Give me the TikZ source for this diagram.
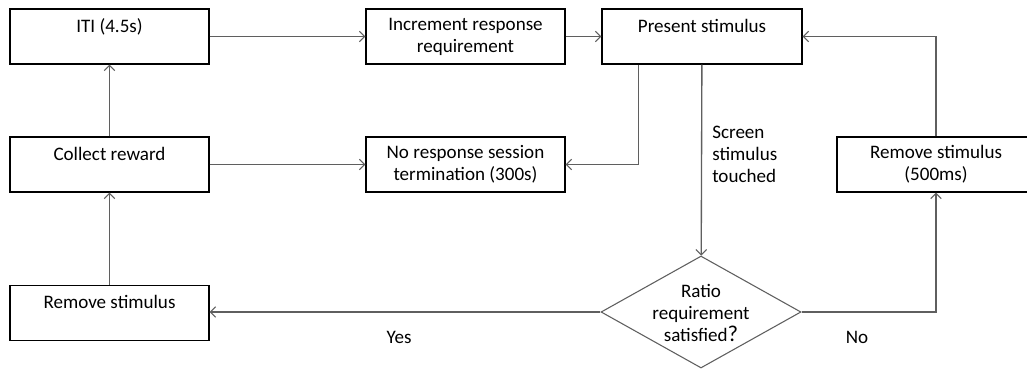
\documentclass[tikz,border=0pt]{standalone}
\usepackage{fontspec}
\setmainfont{Carlito}
\usetikzlibrary{arrows.meta,shapes.geometric}
\definecolor{linegray}{RGB}{95,95,95}
\tikzset{
  box/.style={draw=black, line width=0.8pt, rectangle, minimum width=149.25pt, minimum height=41.25pt, inner sep=0pt, align=center, font=\fontsize{14.3}{16.5}\selectfont},
  decision/.style={draw=linegray, line width=0.8pt, diamond, minimum width=150pt, minimum height=84pt, inner sep=0pt},
  lbl/.style={font=\fontsize{14.3}{16.5}\selectfont, inner sep=0pt},
  arr/.style={draw=linegray, line width=1pt, -{Straight Barb[length=4pt,width=8pt,line width=0.8pt]}},
}
\begin{document}
\begin{tikzpicture}[x=0.75pt,y=-0.75pt]
\useasboundingbox (0,0) rectangle (1027,368);
\clip (0,0) rectangle (1027,368);
\fill[white] (0,0) rectangle (1027,368);
\node[box] (iti) at (109.5,36.5) {ITI (4.5s)\\ \mbox{}};
\node[box] (inc) at (465.5,36.5) {Increment response\\requirement};
\node[box, minimum width=150pt] (present) at (702,36.5) {Present stimulus\\ \mbox{}};
\node[box] (collect) at (109.5,164.5) {Collect reward\\ \mbox{}};
\node[box] (noresp) at (465.5,164.5) {No response session\\termination (300s)};
\node[box, minimum width=148.5pt] (rem500) at (936,164.5) {Remove stimulus\\(500ms)};
\node[box] (remL) at (109.5,313) {Remove stimulus\\ \mbox{}};
\node[decision, label={[lbl, align=center, yshift=-1pt]center:Ratio\\requirement\\satisfied{\fontsize{17}{17}\selectfont ?}}] (dia) at (701,312) {};
\node[lbl, anchor=west, align=left] (touch) at (712,154) {Screen\\stimulus\\touched};
\node[lbl] (yes) at (399,337) {Yes};
\node[lbl] (no) at (857,337) {No};
\draw[arr] (iti) -- (inc);
\draw[arr] (inc) -- (present);
\draw[arr] (collect) -- (iti);
\draw[arr] (remL) -- (collect);
\draw[arr] (collect) -- (noresp);
\draw[arr] (present.south west) ++(37,0) |- (noresp.east);
\draw[arr] (present) -- (dia);
\draw[arr] (dia.west) -- (dia.west -| remL.east);
\draw[arr] (dia.east) -| (rem500.south);
\draw[arr] (rem500.north) |- (present.east);
\end{tikzpicture}
\end{document}
